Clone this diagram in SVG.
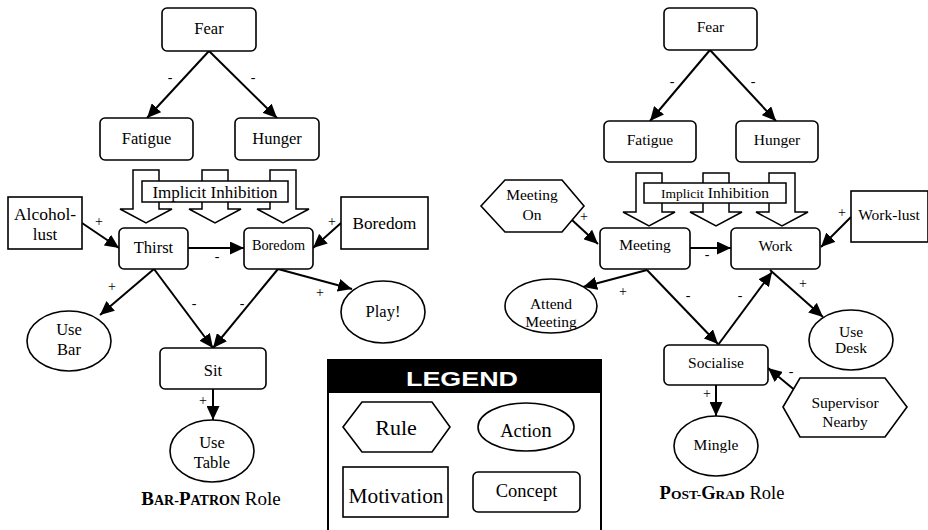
<svg xmlns="http://www.w3.org/2000/svg" width="928" height="530" viewBox="0 0 928 530">
<style>
.t{font-family:"Liberation Serif","Times New Roman",serif;text-anchor:middle;fill:#000}
.box{fill:#fff;stroke:#000;stroke-width:1.6}
.c{stroke:#000;stroke-width:2;fill:none;marker-end:url(#ah)}
.blk{fill:#fff;stroke:#000;stroke-width:1.5}
</style>
<defs>
<marker id="ah" markerUnits="userSpaceOnUse" viewBox="0 0 14 13" refX="14" refY="6.5" markerWidth="14" markerHeight="13" orient="auto">
<path d="M0,0 L14,6.5 L0,13 z" fill="#000"/>
</marker>
<path id="blockArrow" d="M-13,0 L13,0 L13,39 L26,39 L0,53 L-26,39 L-13,39 z"/>
</defs>
<rect width="928" height="530" fill="#fff"/>

<g id="connectors-left">
<line class="c" x1="209" y1="51" x2="147" y2="118"/>
<line class="c" x1="209" y1="51" x2="277" y2="118"/>
<line class="c" x1="82" y1="223" x2="119" y2="248"/>
<line class="c" x1="188" y1="248" x2="244" y2="248"/>
<line class="c" x1="341" y1="223" x2="313" y2="248"/>
<line class="c" x1="154" y1="269" x2="100" y2="315"/>
<line class="c" x1="154" y1="269" x2="213" y2="348"/>
<line class="c" x1="278" y1="269" x2="213" y2="348"/>
<line class="c" x1="278" y1="269" x2="352" y2="289"/>
<line class="c" x1="213" y1="389" x2="213" y2="420"/>
<text class="t" font-family="Liberation Serif" font-size="14" x="170" y="82">-</text>
<text class="t" font-family="Liberation Serif" font-size="14" x="253" y="82">-</text>
<text class="t" font-family="Liberation Serif" font-size="14" x="99" y="226">+</text>
<text class="t" font-family="Liberation Serif" font-size="14" x="217" y="261">-</text>
<text class="t" font-family="Liberation Serif" font-size="14" x="332" y="226">+</text>
<text class="t" font-family="Liberation Serif" font-size="14" x="112" y="291">+</text>
<text class="t" font-family="Liberation Serif" font-size="14" x="194" y="308">-</text>
<text class="t" font-family="Liberation Serif" font-size="14" x="242" y="308">-</text>
<text class="t" font-family="Liberation Serif" font-size="14" x="320" y="297">+</text>
<text class="t" font-family="Liberation Serif" font-size="14" x="203" y="405">+</text>
</g>

<g id="L-fear"><rect class="box" x="162" y="8" width="94" height="43" rx="5"/><text class="t" font-family="Liberation Serif" font-size="16.5" x="209" y="34">Fear</text></g>
<g id="L-fatigue"><rect class="box" x="100" y="118" width="93" height="42" rx="5"/><text class="t" font-family="Liberation Serif" font-size="16.5" x="146.5" y="144">Fatigue</text></g>
<g id="L-hunger"><rect class="box" x="235" y="118" width="84" height="42" rx="5"/><text class="t" font-family="Liberation Serif" font-size="16.5" x="277" y="144">Hunger</text></g>

<g id="L-implicit-inhibition">
<use href="#blockArrow" class="blk" x="146" y="170"/>
<use href="#blockArrow" class="blk" x="215" y="170"/>
<use href="#blockArrow" class="blk" x="283" y="170"/>
<rect class="blk" x="142" y="181" width="146" height="21"/>
<text class="t" font-family="Liberation Serif" x="215" y="198" font-size="17">Implicit Inhibition</text>
</g>

<g id="L-alcohol-lust"><rect class="box" x="8" y="197" width="74" height="52"/><text class="t" font-family="Liberation Serif" font-size="17.5" x="45" y="220">Alcohol-</text><text class="t" font-family="Liberation Serif" font-size="17" x="45" y="240">lust</text></g>
<g id="L-thirst"><rect class="box" x="119" y="228" width="69" height="41" rx="5"/><text class="t" font-family="Liberation Serif" font-size="16.5" x="153.5" y="253">Thirst</text></g>
<g id="L-boredom-concept"><rect class="box" x="244" y="228" width="69" height="41" rx="5"/><text class="t" font-family="Liberation Serif" font-size="14.3" x="278.5" y="250">Boredom</text></g>
<g id="L-boredom-motivation"><rect class="box" x="341" y="197" width="87" height="52"/><text class="t" font-family="Liberation Serif" font-size="17.2" x="384.5" y="229">Boredom</text></g>
<g id="L-use-bar"><ellipse class="box" cx="69" cy="341" rx="42" ry="30"/><text class="t" font-family="Liberation Serif" font-size="16.5" x="69" y="335">Use</text><text class="t" font-family="Liberation Serif" font-size="16.5" x="69" y="355">Bar</text></g>
<g id="L-play"><ellipse class="box" cx="383" cy="312" rx="42" ry="31"/><text class="t" font-family="Liberation Serif" font-size="16.5" x="383" y="317">Play!</text></g>
<g id="L-sit"><rect class="box" x="160" y="348" width="106" height="41" rx="5"/><text class="t" font-family="Liberation Serif" font-size="16.5" x="213" y="376">Sit</text></g>
<g id="L-use-table"><ellipse class="box" cx="212" cy="451" rx="42" ry="31"/><text class="t" font-family="Liberation Serif" font-size="16.5" x="212" y="448">Use</text><text class="t" font-family="Liberation Serif" font-size="16.5" x="212" y="468">Table</text></g>
<text class="t" font-family="Liberation Serif" x="211" y="505" font-size="19"><tspan font-weight="bold">B</tspan><tspan font-weight="bold" font-size="14">AR-</tspan><tspan font-weight="bold">P</tspan><tspan font-weight="bold" font-size="14">ATRON</tspan> Role</text>

<g id="connectors-right">
<line class="c" x1="710" y1="50" x2="650" y2="121"/>
<line class="c" x1="710" y1="50" x2="776" y2="121"/>
<line class="c" x1="572" y1="220" x2="598" y2="244"/>
<line class="c" x1="690" y1="248" x2="731" y2="248"/>
<line class="c" x1="851" y1="217" x2="821" y2="247"/>
<line class="c" x1="647" y1="270" x2="583" y2="287"/>
<line class="c" x1="647" y1="270" x2="718" y2="344"/>
<line class="c" x1="718" y1="345" x2="772" y2="272"/>
<line class="c" x1="770" y1="270" x2="823" y2="317"/>
<line class="c" x1="716" y1="385" x2="716" y2="416"/>
<line class="c" x1="797" y1="392" x2="768" y2="368"/>
<text class="t" font-family="Liberation Serif" font-size="14" x="672" y="86">-</text>
<text class="t" font-family="Liberation Serif" font-size="14" x="753" y="86">-</text>
<text class="t" font-family="Liberation Serif" font-size="14" x="584" y="221">+</text>
<text class="t" font-family="Liberation Serif" font-size="14" x="707" y="259">-</text>
<text class="t" font-family="Liberation Serif" font-size="14" x="842" y="217">+</text>
<text class="t" font-family="Liberation Serif" font-size="14" x="623" y="296">+</text>
<text class="t" font-family="Liberation Serif" font-size="14" x="688" y="300">-</text>
<text class="t" font-family="Liberation Serif" font-size="14" x="740" y="300">-</text>
<text class="t" font-family="Liberation Serif" font-size="14" x="803" y="288">+</text>
<text class="t" font-family="Liberation Serif" font-size="14" x="707" y="398">+</text>
<text class="t" font-family="Liberation Serif" font-size="14" x="791" y="376">-</text>
</g>

<g id="R-fear"><rect class="box" x="664" y="8" width="93" height="42" rx="5"/><text class="t" font-family="Liberation Serif" font-size="15.5" x="710.5" y="32">Fear</text></g>
<g id="R-fatigue"><rect class="box" x="604" y="121" width="92" height="41" rx="5"/><text class="t" font-family="Liberation Serif" font-size="15.5" x="650" y="145">Fatigue</text></g>
<g id="R-hunger"><rect class="box" x="736" y="121" width="82" height="41" rx="5"/><text class="t" font-family="Liberation Serif" font-size="15.5" x="777" y="145">Hunger</text></g>

<g id="R-implicit-inhibition">
<use href="#blockArrow" class="blk" x="649" y="173"/>
<use href="#blockArrow" class="blk" x="716" y="173"/>
<use href="#blockArrow" class="blk" x="782" y="173"/>
<rect class="blk" x="644" y="183" width="142" height="20"/>
<text class="t" font-family="Liberation Serif" x="715" y="198"><tspan font-size="13.5">Implicit</tspan> <tspan font-size="15.5">Inhibition</tspan></text>
</g>

<g id="R-meeting-on"><polygon class="box" points="481,206 505,180 562,180 584,206 562,232 505,232"/><text class="t" font-family="Liberation Serif" font-size="15.5" x="532" y="200">Meeting</text><text class="t" font-family="Liberation Serif" font-size="15.5" x="532" y="220">On</text></g>
<g id="R-meeting"><rect class="box" x="600" y="228" width="90" height="41" rx="5"/><text class="t" font-family="Liberation Serif" font-size="15.5" x="645" y="250">Meeting</text></g>
<g id="R-work"><rect class="box" x="731" y="228" width="89" height="41" rx="5"/><text class="t" font-family="Liberation Serif" font-size="15.5" x="775.5" y="251">Work</text></g>
<g id="R-work-lust"><rect class="box" x="851" y="191" width="77" height="51"/><text class="t" font-family="Liberation Serif" font-size="15.5" x="889" y="220">Work-lust</text></g>
<g id="R-attend-meeting"><ellipse class="box" cx="551" cy="306" rx="46" ry="27"/><text class="t" font-family="Liberation Serif" font-size="15.5" x="551" y="309">Attend</text><text class="t" font-family="Liberation Serif" font-size="15.5" x="551" y="327">Meeting</text></g>
<g id="R-use-desk"><ellipse class="box" cx="851" cy="340" rx="42" ry="30"/><text class="t" font-family="Liberation Serif" font-size="15.5" x="851" y="337">Use</text><text class="t" font-family="Liberation Serif" font-size="15.5" x="851" y="353">Desk</text></g>
<g id="R-socialise"><rect class="box" x="664" y="345" width="104" height="40" rx="5"/><text class="t" font-family="Liberation Serif" font-size="15.5" x="716" y="368">Socialise</text></g>
<g id="R-supervisor-nearby"><polygon class="box" points="783,407 800,378 885,378 907,407 885,437 800,437"/><text class="t" font-family="Liberation Serif" font-size="15.5" x="845" y="408">Supervisor</text><text class="t" font-family="Liberation Serif" font-size="15.5" x="845" y="427">Nearby</text></g>
<g id="R-mingle"><ellipse class="box" cx="716" cy="446" rx="42" ry="30"/><text class="t" font-family="Liberation Serif" font-size="15.5" x="716" y="450">Mingle</text></g>
<text class="t" font-family="Liberation Serif" x="722" y="499" font-size="18.5"><tspan font-weight="bold">P</tspan><tspan font-weight="bold" font-size="13.5">OST-</tspan><tspan font-weight="bold">G</tspan><tspan font-weight="bold" font-size="13.5">RAD</tspan> Role</text>

<g id="legend">
<rect x="328" y="360" width="273" height="180" fill="#fff" stroke="#000" stroke-width="2"/>
<rect x="327" y="359" width="275" height="34" fill="#000"/>
<text x="462" y="386" font-family="Liberation Sans" font-weight="bold" font-size="21" fill="#fff" text-anchor="middle" textLength="112" lengthAdjust="spacingAndGlyphs">LEGEND</text>
<g id="legend-rule"><polygon class="box" points="343,427 362,402 432,402 450,427 432,452 362,452"/><text class="t" font-family="Liberation Serif" font-size="22" x="396" y="435">Rule</text></g>
<g id="legend-action"><ellipse class="box" cx="526" cy="427" rx="48" ry="24"/><text class="t" font-family="Liberation Serif" x="526" y="437" font-size="18.5">Actio<tspan font-size="21">n</tspan></text></g>
<g id="legend-motivation"><rect class="box" x="343" y="467" width="105" height="50"/><text class="t" font-family="Liberation Serif" font-size="21.4" x="396" y="503">Motivation</text></g>
<g id="legend-concept"><rect class="box" x="473" y="472" width="107" height="40" rx="5"/><text class="t" font-family="Liberation Serif" font-size="18.5" x="526.5" y="497">Concept</text></g>
</g>
</svg>
